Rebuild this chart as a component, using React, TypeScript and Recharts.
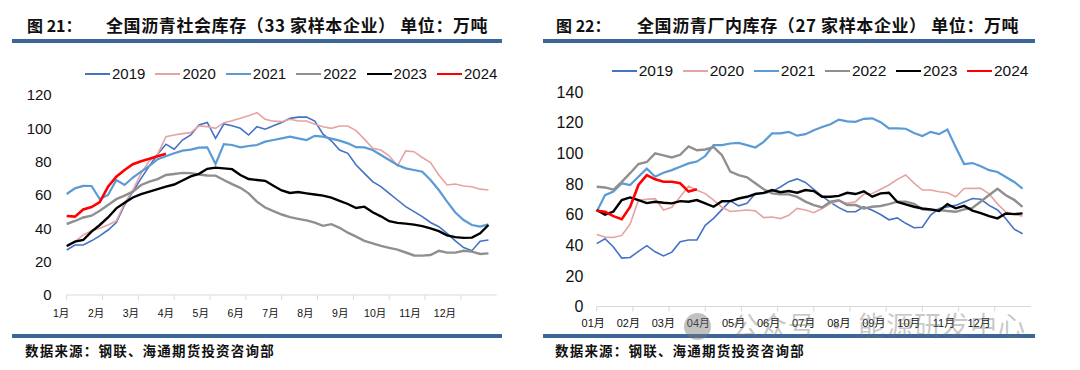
import React from 'react';
import { LineChart, Line, XAxis, YAxis } from 'recharts';

const years = ['2019', '2020', '2021', '2022', '2023', '2024'];
const colors = ['#4472C4', '#E6A3A3', '#5B9BD5', '#8F8F8F', '#000000', '#FF0000'];
const widths = [1.6, 1.6, 2.2, 2.4, 2.4, 2.6];

const monthLabelsL = ['1月', '2月', '3月', '4月', '5月', '6月', '7月', '8月', '9月', '10月', '11月', '12月'];
const monthLabelsR = ['01月', '02月', '03月', '04月', '05月', '06月', '07月', '08月', '09月', '10月', '11月', '12月'];
const yTicksL = [0, 20, 40, 60, 80, 100, 120];
const yTicksR = [0, 20, 40, 60, 80, 100, 120, 140];

// Chart 21: social inventory (weekly)
const soc2019 = [27, 30, 30, 32.5, 35.5, 39, 43.5, 54, 62, 70, 77.5, 84.5, 90.5, 87.5, 93, 96, 102, 103.5, 94, 102.6, 101.5, 100, 96, 101, 99.5, 101.5, 103.5, 106, 106.7, 106.8, 104.4, 96.5, 92.5, 87, 85, 78, 73, 68, 65, 61, 57, 53, 50, 47, 43.5, 41, 37, 32.5, 28.5, 26.6, 32.3, 33];
const soc2020 = [29, 32, 36, 38.5, 40, 42, 44.5, 55, 63, 73, 80.5, 84.5, 95, 96, 96.8, 97.4, 101.5, 101, 100, 103.4, 104.5, 106, 107.5, 109.4, 105.5, 104.3, 104, 105.4, 104.4, 104.4, 102.5, 101, 100, 101.4, 101.4, 98.6, 93.5, 88, 87, 83.5, 77.5, 86.5, 86, 82.5, 79.5, 72, 66, 66.6, 65.4, 65, 63.5, 63];
const soc2021 = [60.6, 64, 65.5, 65.4, 57.5, 60, 69, 66, 70.5, 74, 77.5, 81.5, 83.3, 85, 86.6, 87.2, 88.4, 88.6, 78.6, 90.5, 90, 88.6, 89.4, 90, 92, 93, 94, 95, 94, 93, 95.5, 95, 93.8, 92.6, 91, 88.7, 88.6, 87, 84, 81, 78, 76, 75, 74, 69, 63, 56, 49.5, 45, 42, 41, 42.4];
const soc2022 = [42.6, 44.4, 46.5, 47.6, 50.5, 54, 57.5, 59.6, 62, 66, 68, 69.5, 72, 72.6, 73.3, 73.1, 72.3, 71.7, 71.6, 69, 66.5, 64.3, 61, 56, 52.5, 50.3, 48.3, 46.7, 45.7, 44.8, 43.4, 41.5, 42.5, 40.3, 37.4, 35, 32.5, 31, 29.5, 28.3, 27.2, 25.5, 23.7, 23.6, 24, 26.5, 25.4, 25.4, 26.5, 26, 24.6, 25];
const soc2023 = [29.4, 32, 33, 38, 42, 46.5, 52, 55.3, 58.5, 60.5, 62, 63.5, 65, 66.3, 68.7, 71.2, 72.7, 75.7, 76.4, 76, 75.5, 72, 69.6, 69, 68.5, 65.5, 62.7, 61.2, 61.8, 61, 60.3, 59.6, 58.4, 56.5, 54.6, 52.2, 53, 49.6, 47.2, 44.3, 43.3, 42.8, 42.2, 41.3, 40, 38.3, 35.8, 34.7, 34.3, 34.4, 37, 42];
const soc2024 = [47.4, 47, 51.3, 52.8, 55.8, 65, 71, 75, 78.5, 80.3, 81.7, 83.3, 84.8];

// Chart 22: plant inventory (weekly)
const plant2019 = [41, 44.2, 38.8, 31.6, 32, 36, 39.7, 35.7, 33, 35.5, 42.3, 43.4, 43.4, 53, 57.5, 63.2, 69, 65.7, 67.3, 73.8, 73.8, 75, 78, 81.5, 83.3, 81, 76.5, 72, 68, 64.5, 61.8, 61.8, 65, 62.8, 60, 56.6, 57.8, 54.3, 51.4, 51.7, 59.7, 64, 65, 66, 68.2, 70.5, 70, 66, 63, 57.3, 50.5, 47.5];
const plant2020 = [47, 45.3, 45, 46.4, 53.8, 69.3, 69.9, 70.4, 63, 64.8, 71.6, 78.7, 75.8, 73.7, 69.5, 64.8, 62, 62.5, 63, 62.4, 58, 58.4, 57.4, 59.5, 64, 63, 61.2, 64, 67.3, 68.8, 67.3, 68.4, 73.4, 73.8, 76.5, 79.3, 83, 85.8, 80.5, 76, 76, 74.9, 74.2, 71.6, 77, 77.1, 77.1, 73.5, 67, 61.6, 60.2, 59];
const plant2021 = [61.8, 72.7, 75, 80.4, 79.3, 84.7, 90, 84.7, 87.3, 89, 91.2, 93.4, 94.6, 98.2, 105.3, 105.3, 106.4, 106.8, 105.3, 103.8, 107.5, 113, 113, 114, 111.5, 112.5, 115, 117.2, 119, 122, 120.8, 120.5, 122.5, 122.8, 120.3, 116.2, 116.2, 116, 113.2, 111.3, 114, 112.5, 115.5, 104, 93, 93.6, 91.5, 89, 87.8, 84.5, 81.3, 77];
const plant2022 = [78.2, 77.7, 76.2, 81.4, 87, 93, 94.3, 99.9, 98.6, 97.3, 99, 104.5, 102, 102.5, 104, 98.8, 88, 85.8, 84.3, 80.4, 76.5, 73.8, 73.2, 73.2, 71.5, 68.5, 66.2, 64.7, 68.4, 69.4, 66.2, 66.2, 64, 65.1, 65.6, 66.8, 68.4, 68.4, 67, 63.4, 63, 63, 62.3, 61.8, 63.4, 64.3, 68.5, 72.8, 76.8, 72.6, 69.6, 65];
const plant2023 = [63, 60, 62, 69.5, 71.2, 69.5, 67.5, 68.4, 67.7, 67.3, 68.8, 68.4, 69.5, 67.3, 65.1, 68.7, 68.8, 70.5, 71.6, 73.4, 74.2, 76, 74.6, 75.4, 74.3, 76, 75.3, 71.6, 71.6, 72.2, 74.2, 73.4, 75.2, 71.7, 73.8, 74.2, 68.2, 66.7, 65.1, 64, 63.4, 62.3, 66.8, 64.1, 65.7, 62.6, 60.9, 59, 57.5, 60.7, 60.3, 60.8];
const plant2024 = [62.5, 61.8, 59, 57, 65, 79.3, 85.8, 83, 81.4, 81.4, 80.4, 75, 76.5];

const WEEKS = 52;
const monthTicks = monthLabelsL.map((_, i) => (i * WEEKS) / 12);

function buildRows(series: number[][]) {
  const n = Math.max(...series.map((s) => s.length));
  const rows: any[] = [];
  for (let i = 0; i < n; i++) {
    const row: any = { w: i };
    series.forEach((s, k) => {
      row['y' + years[k]] = i < s.length ? s[i] : null;
    });
    rows.push(row);
  }
  return rows;
}

const rowsL = buildRows([soc2019, soc2020, soc2021, soc2022, soc2023, soc2024]);
const rowsR = buildRows([plant2019, plant2020, plant2021, plant2022, plant2023, plant2024]);

const numFont = '"Liberation Sans", Arial, "Noto Sans CJK SC", sans-serif';
const cjkFont = '"Noto Sans CJK SC", "Liberation Sans", sans-serif';

const makeTick = (labels: string[], shift0: number, step: number, fontSize: number) => (props: any) => {
  const { x, y, payload } = props;
  const i = Math.round((payload.value * 12) / WEEKS);
  return (
    <text x={x + shift0 + step * i} y={y} dy="0.71em" textAnchor="middle" fontSize={fontSize} fill="#111" fontFamily={numFont}>
      {labels[i]}
    </text>
  );
};

function Legend({ left, top, spacing, fontSize }: { left: number; top: number; spacing: number; fontSize: number }) {
  return (
    <>
      {years.map((y, i) => (
        <div key={y} style={{ position: 'absolute', left: left + i * spacing, top, height: 20, display: 'flex', alignItems: 'center' }}>
          <div style={{ width: 25, height: 2, background: colors[i] }} />
          <span style={{ marginLeft: 2, fontSize, fontFamily: numFont, color: '#111', lineHeight: '20px' }}>{y}</span>
        </div>
      ))}
    </>
  );
}

function Panel({ left, figNo, title, sourceLeft }: { left: number; figNo: string; title: string; sourceLeft: number }) {
  return null;
}

export default function App() {
  const ruleColor = '#3B6699';
  return (
    <div style={{ position: 'absolute', left: 0, top: 0, width: 1080, height: 370, background: '#fff', overflow: 'hidden' }}>
      {/* Left titles */}
      <div style={{ position: 'absolute', left: 27, top: 13, fontSize: 16, fontWeight: 700, fontFamily: cjkFont, lineHeight: '24px', color: '#111', whiteSpace: 'nowrap' }}>图 21：</div>
      <div style={{ position: 'absolute', left: 106, top: 12, fontSize: 17, fontWeight: 700, fontFamily: cjkFont, lineHeight: '26px', letterSpacing: 0.6, color: '#111', whiteSpace: 'nowrap' }}>全国沥青社会库存（33 家样本企业） 单位：万吨</div>
      <div style={{ position: 'absolute', left: 12, top: 39, width: 490, height: 4, background: ruleColor }} />
      <div style={{ position: 'absolute', left: 12, top: 334, width: 490, height: 4, background: ruleColor }} />
      <div style={{ position: 'absolute', left: 25, top: 340, fontSize: 13.5, fontWeight: 700, fontFamily: cjkFont, lineHeight: '20px', letterSpacing: 1.2, color: '#111', whiteSpace: 'nowrap' }}>数据来源：钢联、海通期货投资咨询部</div>

      {/* Right titles */}
      <div style={{ position: 'absolute', left: 556, top: 13, fontSize: 16, fontWeight: 700, fontFamily: cjkFont, lineHeight: '24px', color: '#111', whiteSpace: 'nowrap' }}>图 22：</div>
      <div style={{ position: 'absolute', left: 637, top: 12, fontSize: 17, fontWeight: 700, fontFamily: cjkFont, lineHeight: '26px', letterSpacing: 0.6, color: '#111', whiteSpace: 'nowrap' }}>全国沥青厂内库存（27 家样本企业） 单位：万吨</div>
      <div style={{ position: 'absolute', left: 543, top: 39, width: 492, height: 4, background: ruleColor }} />
      <div style={{ position: 'absolute', left: 543, top: 334, width: 492, height: 4, background: ruleColor }} />
      <div style={{ position: 'absolute', left: 555, top: 340, fontSize: 13.5, fontWeight: 700, fontFamily: cjkFont, lineHeight: '20px', letterSpacing: 1.2, color: '#111', whiteSpace: 'nowrap' }}>数据来源：钢联、海通期货投资咨询部</div>

      {/* Left chart */}
      <div style={{ position: 'absolute', left: 0, top: 0 }}>
        <LineChart width={540} height={370} data={rowsL} margin={{ top: 95, right: 43.3, bottom: 45, left: 6.7 }}>
          <XAxis
            dataKey="w"
            type="number"
            domain={[0, WEEKS]}
            ticks={monthTicks}
            interval={0}
            height={30}
            axisLine={{ stroke: '#D9D9D9' }}
            tickLine={{ stroke: '#D9D9D9' }}
            tickSize={5}
            tickMargin={9.5}
            tick={makeTick(monthLabelsL, -5.5, -0.95, 10.5)}
          />
          <YAxis
            type="number"
            domain={[0, 120]}
            ticks={yTicksL}
            interval={0}
            width={60}
            axisLine={false}
            tickLine={false}
            tickSize={0}
            tickMargin={15}
            tick={{ fontSize: 15, fill: '#111', fontFamily: numFont }}
          />
          {years.map((y, i) => (
            <Line key={y} type="linear" dataKey={'y' + y} stroke={colors[i]} strokeWidth={widths[i]} dot={false} activeDot={false} isAnimationActive={false} connectNulls={false} />
          ))}
        </LineChart>
      </div>

      {/* Right chart */}
      <div style={{ position: 'absolute', left: 540, top: 0 }}>
        <LineChart width={540} height={370} data={rowsR} margin={{ top: 92, right: 49.1, bottom: 33.5, left: 6.7 }}>
          <XAxis
            dataKey="w"
            type="number"
            domain={[0, WEEKS]}
            ticks={monthTicks}
            interval={0}
            height={30}
            axisLine={{ stroke: '#D9D9D9' }}
            tickLine={{ stroke: '#D9D9D9' }}
            tickSize={5}
            tickMargin={7.7}
            tick={makeTick(monthLabelsR, -3.5, -1.1, 11)}
          />
          <YAxis
            type="number"
            domain={[0, 140]}
            ticks={yTicksR}
            interval={0}
            width={50}
            axisLine={false}
            tickLine={false}
            tickSize={0}
            tickMargin={13.4}
            tick={{ fontSize: 16, fill: '#111', fontFamily: numFont }}
          />
          {years.map((y, i) => (
            <Line key={y} type="linear" dataKey={'y' + y} stroke={colors[i]} strokeWidth={widths[i]} dot={false} activeDot={false} isAnimationActive={false} connectNulls={false} />
          ))}
        </LineChart>
      </div>

      <Legend left={85} top={64} spacing={70.4} fontSize={15} />
      <Legend left={611.7} top={61} spacing={71.06} fontSize={15.5} />

      {/* Watermark */}
      <div style={{ position: 'absolute', left: 684, top: 313, width: 27, height: 27, borderRadius: '50%', background: 'rgba(120,120,120,0.45)' }} />
      <div style={{ position: 'absolute', left: 732, top: 306, fontSize: 27, fontFamily: cjkFont, lineHeight: '38px', color: 'rgba(110,110,110,0.38)', whiteSpace: 'nowrap', letterSpacing: 1 }}>公众号 · 能源研发中心</div>
    </div>
  );
}
